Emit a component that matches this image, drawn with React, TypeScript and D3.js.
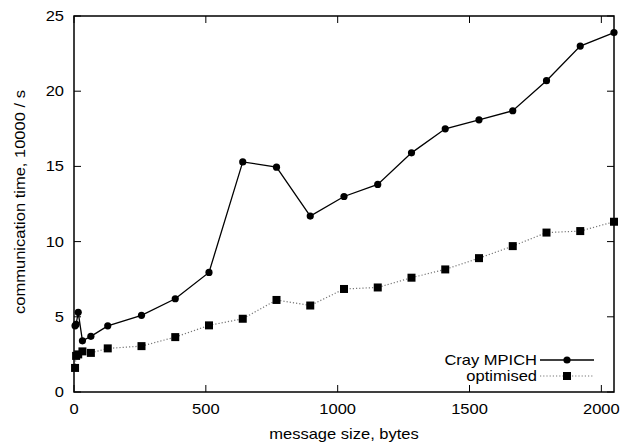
import React, { useEffect, useRef } from "react";
import * as d3 from "d3";

const sizes = [4, 8, 16, 32, 64, 128, 256, 384, 512, 640, 768, 896, 1024, 1152, 1280, 1408, 1536, 1664, 1792, 1920, 2048];
const crayMPICH = [4.4, 4.5, 5.3, 3.4, 3.7, 4.4, 5.1, 6.2, 7.95, 15.3, 14.95, 11.7, 13.0, 13.8, 15.9, 17.5, 18.1, 18.7, 20.7, 23.0, 23.9];
const optimised = [1.6, 2.4, 2.5, 2.7, 2.6, 2.9, 3.05, 3.65, 4.43, 4.87, 6.12, 5.75, 6.85, 6.95, 7.6, 8.15, 8.9, 9.7, 10.6, 10.7, 11.32];
const xTicks = [0, 500, 1000, 1500, 2000];
const yTicks = [0, 5, 10, 15, 20, 25];
const seriesNames = ["Cray MPICH", "optimised"];

const W = 623, H = 444;
const M = { left: 74, right: 614, top: 16, bottom: 392 };
const FONT = "'Liberation Sans', Arial, Helvetica, sans-serif";
const SX = 1.18;

export default function App() {
  const ref = useRef<SVGSVGElement>(null);
  useEffect(() => {
    const svg = d3.select(ref.current);
    svg.selectAll("*").remove();
    const x = d3.scaleLinear().domain([0, 2048]).range([M.left, M.right]);
    const y = d3.scaleLinear().domain([0, 25]).range([M.bottom, M.top]);
    const tl = 7;

    const g = svg.append("g");
    const txt = (px: number, py: number, s: string, anchor: string, rot = 0, size = 14) =>
      g.append("text")
        .attr("transform", `translate(${px},${py}) rotate(${rot}) scale(${SX},1)`)
        .attr("text-anchor", anchor).attr("font-family", FONT).attr("font-size", size).attr("fill", "#000").text(s);

    xTicks.forEach((t) => {
      g.append("line").attr("x1", x(t)).attr("x2", x(t)).attr("y1", M.bottom).attr("y2", M.bottom - tl).attr("stroke", "#000").attr("stroke-width", 1);
      g.append("line").attr("x1", x(t)).attr("x2", x(t)).attr("y1", M.top).attr("y2", M.top + tl).attr("stroke", "#000").attr("stroke-width", 1);
      txt(x(t), M.bottom + 22, String(t), "middle");
    });
    yTicks.forEach((t) => {
      g.append("line").attr("x1", M.left).attr("x2", M.left + tl).attr("y1", y(t)).attr("y2", y(t)).attr("stroke", "#000").attr("stroke-width", 1);
      g.append("line").attr("x1", M.right).attr("x2", M.right - tl).attr("y1", y(t)).attr("y2", y(t)).attr("stroke", "#000").attr("stroke-width", 1);
      txt(M.left - 10, y(t) + 5, String(t), "end");
    });

    const lineGen = d3.line<number>().x((_, i) => x(sizes[i])).y((d) => y(d));
    g.append("path").attr("d", lineGen(optimised)).attr("fill", "none").attr("stroke", "#777")
      .attr("stroke-width", 1.2).attr("stroke-dasharray", "1.2,2");
    g.append("path").attr("d", lineGen(crayMPICH)).attr("fill", "none").attr("stroke", "#000").attr("stroke-width", 1.3);

    g.selectAll("circle.c").data(crayMPICH).enter().append("circle")
      .attr("cx", (_, i) => x(sizes[i])).attr("cy", (d) => y(d)).attr("r", 3.6).attr("fill", "#000");
    const s = 8;
    g.selectAll("rect.o").data(optimised).enter().append("rect")
      .attr("x", (_, i) => x(sizes[i]) - s / 2).attr("y", (d) => y(d) - s / 2).attr("width", s).attr("height", s).attr("fill", "#000");

    g.append("rect").attr("x", M.left).attr("y", M.top).attr("width", M.right - M.left).attr("height", M.bottom - M.top)
      .attr("fill", "none").attr("stroke", "#000").attr("stroke-width", 1.5);

    const lx0 = 540, lx1 = 594, lxm = 567;
    const ly = [360, 376];
    txt(537, ly[0] + 5, seriesNames[0], "end");
    g.append("line").attr("x1", lx0).attr("x2", lx1).attr("y1", ly[0]).attr("y2", ly[0]).attr("stroke", "#000").attr("stroke-width", 1.3);
    g.append("circle").attr("cx", lxm).attr("cy", ly[0]).attr("r", 3.6).attr("fill", "#000");
    txt(537, ly[1] + 5, seriesNames[1], "end");
    g.append("line").attr("x1", lx0).attr("x2", lx1).attr("y1", ly[1]).attr("y2", ly[1]).attr("stroke", "#777")
      .attr("stroke-width", 1.2).attr("stroke-dasharray", "1.2,2");
    g.append("rect").attr("x", lxm - s / 2).attr("y", ly[1] - s / 2).attr("width", s).attr("height", s).attr("fill", "#000");

    txt(344, 439, "message size, bytes", "middle");
    txt(25, 202, "communication time, 10000 / s", "middle", -90);
  }, []);
  return (
    <svg ref={ref} width={W} height={H} style={{ position: "absolute", left: 0, top: 0, background: "#fff" }} />
  );
}
